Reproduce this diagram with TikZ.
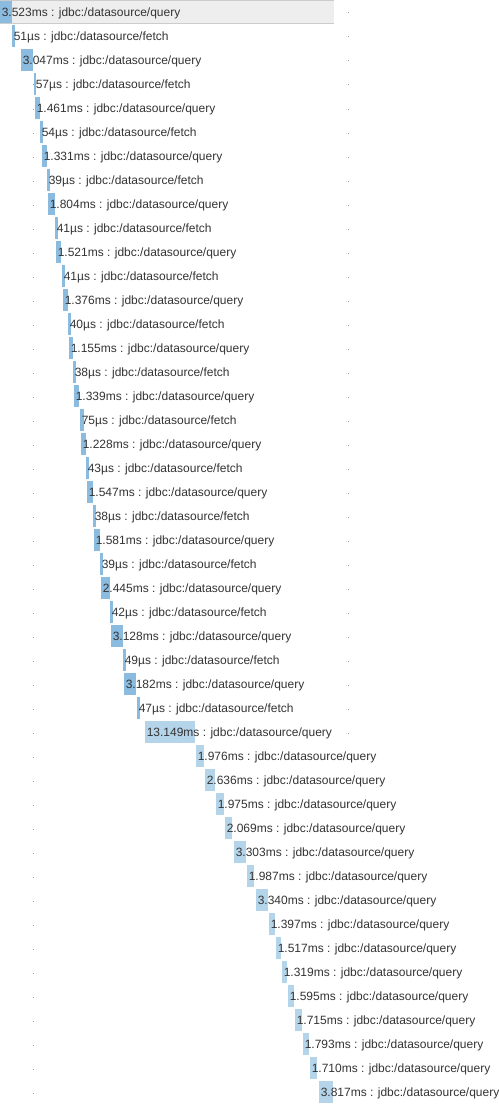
\documentclass[tikz,border=0pt]{standalone}
\usepackage{fontspec}
\setmainfont{Liberation Sans}
\definecolor{bardark}{HTML}{8BBBDE}
\definecolor{barlight}{HTML}{B4D4EA}
\definecolor{txt}{HTML}{333333}
\definecolor{hl}{HTML}{EEEEEE}
\definecolor{hlline}{HTML}{CCCCCC}
\definecolor{dotc}{HTML}{999999}
\begin{document}
\begin{tikzpicture}[x=0.75pt,y=-0.75pt,
  lbl/.style={anchor=base west,inner sep=0pt,font=\fontsize{9}{10}\selectfont,text=txt},
  dk/.style={fill=bardark},
  lt/.style={fill=barlight},
  dotm/.style={fill=dotc}]
\useasboundingbox (0,0) rectangle (499,1106);
% highlighted first row
\fill[hl] (0,0) rectangle (334,23.5);
\draw[hlline,line width=0.75pt] (0,0.5) -- (334,0.5) (0,23.5) -- (334,23.5);
% guide dots
\foreach \i in {3,...,45} \fill[dotm] (32.5,{24*\i+12.5}) rectangle (33.5,{24*\i+13.5});
\foreach \i in {0,...,30} \fill[dotm] (348,{24*\i+12.5}) rectangle (349,{24*\i+13.5});
% bars and labels
\foreach \i/\d/\k/\a/\b/\c in {
 0/3.523ms/query/0/12/dk,
 1/51µs/fetch/12/15/dk,
 2/3.047ms/query/21/33/dk,
 3/57µs/fetch/34/36/dk,
 4/1.461ms/query/35/40/dk,
 5/54µs/fetch/40/43/dk,
 6/1.331ms/query/42/47/dk,
 7/39µs/fetch/47/50/dk,
 8/1.804ms/query/48/55/dk,
 9/41µs/fetch/55/58/dk,
 10/1.521ms/query/56/61/dk,
 11/41µs/fetch/62/65/dk,
 12/1.376ms/query/63/68/dk,
 13/40µs/fetch/68/71/dk,
 14/1.155ms/query/69/73/dk,
 15/38µs/fetch/73/76/dk,
 16/1.339ms/query/74/79/dk,
 17/75µs/fetch/80/84/dk,
 18/1.228ms/query/81/86/dk,
 19/43µs/fetch/86/89/dk,
 20/1.547ms/query/87/93/dk,
 21/38µs/fetch/93/96/dk,
 22/1.581ms/query/94/100/dk,
 23/39µs/fetch/100/103/dk,
 24/2.445ms/query/101/110/dk,
 25/42µs/fetch/110/113/dk,
 26/3.128ms/query/111/123/dk,
 27/49µs/fetch/123/126/dk,
 28/3.182ms/query/124/136/dk,
 29/47µs/fetch/137/140/dk,
 30/13.149ms/query/145/195/lt,
 31/1.976ms/query/196/204/lt,
 32/2.636ms/query/205/215/lt,
 33/1.975ms/query/216/224/lt,
 34/2.069ms/query/225/232/lt,
 35/3.303ms/query/234/246/lt,
 36/1.987ms/query/247/254/lt,
 37/3.340ms/query/256/268/lt,
 38/1.397ms/query/269/275/lt,
 39/1.517ms/query/276/281/lt,
 40/1.319ms/query/282/287/lt,
 41/1.595ms/query/288/294/lt,
 42/1.715ms/query/295/302/lt,
 43/1.793ms/query/303/309/lt,
 44/1.710ms/query/310/317/lt,
 45/3.817ms/query/319/333/lt}{
  \fill[\c] (\a,{max(24*\i+1,0.5)}) rectangle (\b,{24*\i+23});
  \node[lbl] (l\i) at ({\a+1.5},{24*\i+16.7}) {\d{} : jdbc:/datasource/\k};
}
\end{tikzpicture}
\end{document}
